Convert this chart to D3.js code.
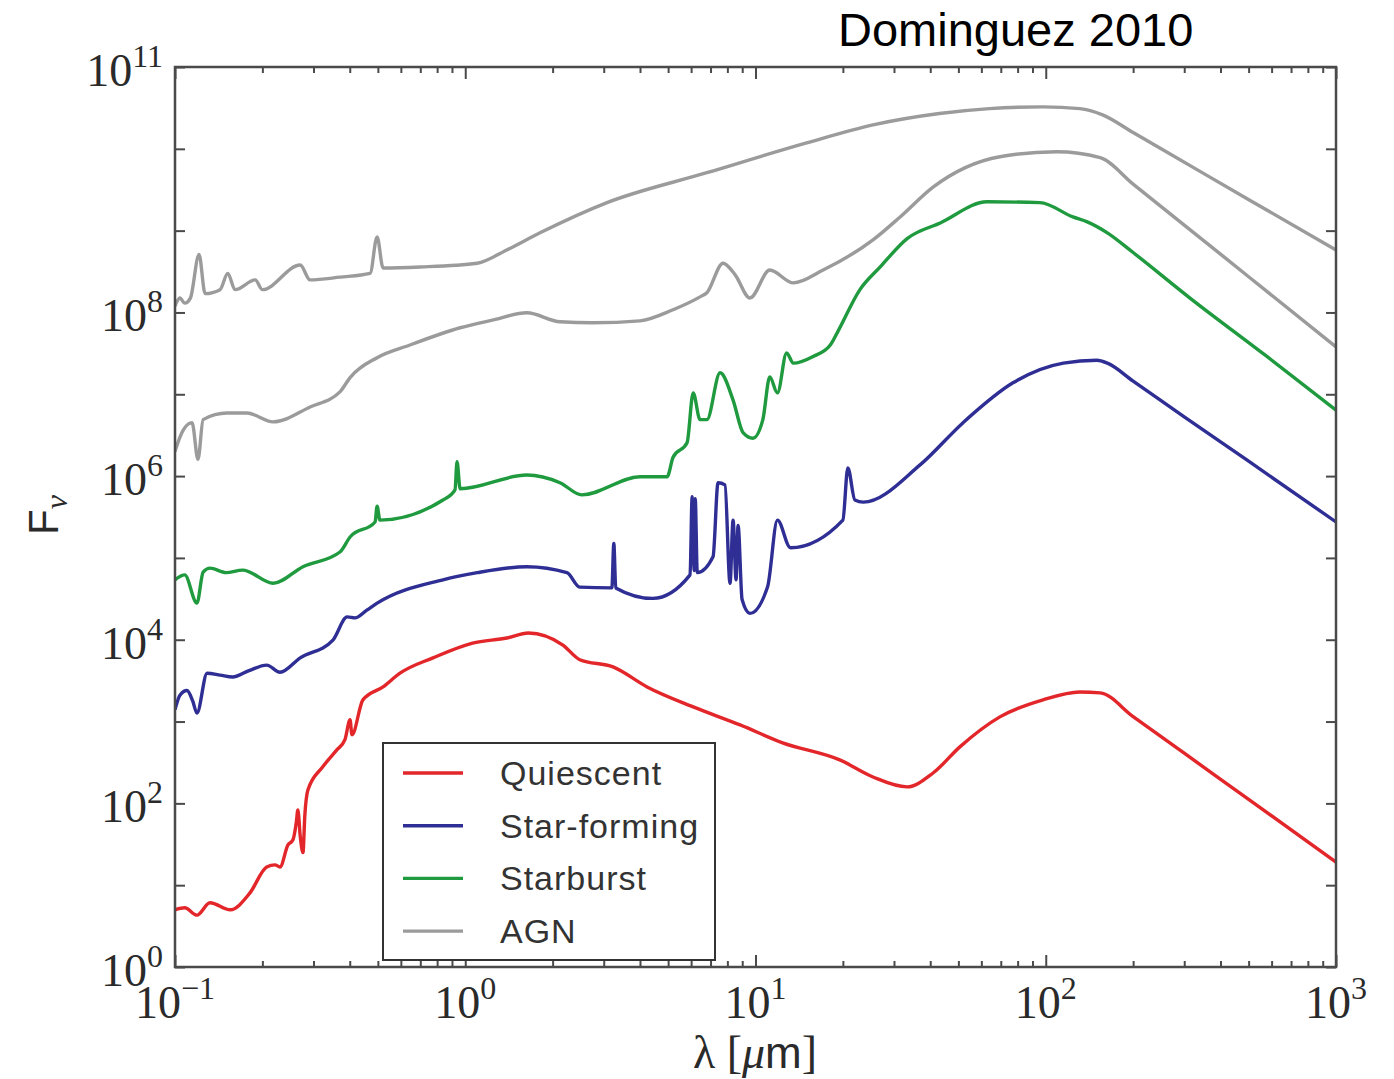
<!DOCTYPE html>
<html>
<head>
<meta charset="utf-8">
<script src="https://cdn.jsdelivr.net/npm/d3@7"></script>
<style>
  body { margin: 0; background: #fff; }
</style>
</head>
<body>
<svg></svg>
<script>
// Template SEDs: [wavelength in micron, F_nu].
const quiescent = [
  [0.1, 5.0], [0.108, 5.3], [0.119, 4.3], [0.132, 6.1], [0.155, 5.0], [0.181, 8.0],
  [0.207, 16.7], [0.221, 17.7], [0.23, 16.7], [0.245, 31], [0.255, 36], [0.262, 60],
  [0.265, 83], [0.27, 40], [0.276, 25], [0.28, 70], [0.287, 146], [0.323, 280],
  [0.361, 450], [0.385, 600], [0.401, 1050], [0.407, 690], [0.444, 1840], [0.521, 2650],
  [0.596, 3900], [0.774, 6000], [1.06, 9100], [1.39, 10500], [1.65, 12100], [2.17, 8600],
  [2.48, 5700], [3.23, 4650], [4.23, 2650], [6.1, 1510], [8.85, 910], [12.4, 550],
  [19.5, 340], [25.4, 210], [33.3, 159], [40.9, 235], [50.6, 490], [69.5, 1140],
  [97.9, 1840], [131, 2300], [154, 2240], [200, 1150], [300, 410], [500, 112], [1000, 19.2]
];

const starForming = [
  [0.1, 1400], [0.104, 2100], [0.11, 2400], [0.115, 1800], [0.119, 1270], [0.129, 3900],
  [0.143, 3700], [0.158, 3500], [0.18, 4200], [0.207, 4900], [0.23, 4000], [0.27, 6000],
  [0.35, 9900], [0.392, 1.9e4], [0.417, 1.85e4], [0.458, 2.3e4], [0.497, 2.8e4],
  [0.838, 5.4e4], [1.1, 6.6e4], [1.63, 7.8e4], [2.24, 6.6e4], [2.48, 4.4e4], [3.2, 4.3e4],
  [3.25, 1.5e5], [3.3, 4.3e4], [4.43, 3.2e4], [5.95, 6.2e4], [6.05, 5.6e5], [6.15, 7.0e4],
  [6.2, 5.3e5], [6.3, 6.6e4], [7.14, 1.03e5], [7.43, 8.3e5], [7.85, 7.8e5], [8.17, 4.9e4],
  [8.37, 2.9e5], [8.57, 5.4e4], [8.71, 2.5e5], [8.99, 3.1e4], [9.57, 2.1e4], [11.0, 4.4e4],
  [11.9, 2.9e5], [13.2, 1.33e5], [20.0, 2.9e5], [20.8, 1.26e6], [22.0, 5.1e5],
  [23.5, 4.8e5], [36.9, 1.37e6], [51.9, 4.5e6], [77.1, 1.38e7], [115, 2.4e7],
  [150, 2.6e7], [163, 2.4e7], [200, 1.45e7], [300, 5.3e6], [500, 1.52e6], [1000, 2.75e5]
];

const starburst = [
  [0.1, 5.4e4], [0.108, 6.2e4], [0.119, 2.8e4], [0.125, 6.7e4], [0.132, 7.5e4],
  [0.15, 6.6e4], [0.171, 7.1e4], [0.218, 4.9e4], [0.276, 7.8e4], [0.37, 1.18e5],
  [0.401, 1.8e5], [0.489, 2.75e5], [0.497, 4.3e5], [0.508, 2.9e5], [0.838, 5.1e5],
  [0.922, 6.8e5], [0.937, 1.5e6], [0.96, 7.0e5], [1.63, 1.03e6], [2.12, 8.3e5],
  [2.52, 5.9e5], [4.0, 9.8e5], [4.96, 9.8e5], [5.2, 1.7e6], [5.81, 2.55e6], [6.1, 1.04e7],
  [6.44, 4.9e6], [6.8, 4.9e6], [7.55, 1.83e7], [8.37, 8.5e6], [9.06, 3.4e6], [9.8, 2.9e6],
  [10.6, 4.9e6], [11.2, 1.63e7], [11.9, 1.04e7], [12.8, 3.2e7], [13.5, 2.4e7],
  [15.8, 2.9e7], [18.1, 4.0e7], [19.1, 5.6e7], [22.9, 1.9e8], [26.9, 3.6e8],
  [33.3, 8.0e8], [43.3, 1.24e9], [62.8, 2.25e9], [95.5, 2.2e9], [124, 1.47e9],
  [139, 1.28e9], [163, 9.4e8], [200, 5.4e8], [314, 1.5e8], [578, 2.9e7], [1000, 6.4e6]
];

const agnBright = [
  [0.1, 1.2e8], [0.104, 1.5e8], [0.108, 1.3e8], [0.113, 1.5e8], [0.121, 5.1e8],
  [0.127, 1.7e8], [0.143, 1.9e8], [0.152, 3.0e8], [0.161, 1.9e8], [0.189, 2.5e8],
  [0.2, 1.9e8], [0.27, 3.8e8], [0.292, 2.5e8], [0.37, 2.7e8], [0.47, 3.0e8],
  [0.497, 8.4e8], [0.521, 3.5e8], [0.7, 3.6e8], [1.1, 4.0e8], [1.39, 5.8e8],
  [1.81, 9.4e8], [3.08, 2.2e9], [6.8, 5.1e9], [15, 1.18e10], [25.4, 1.96e10],
  [43, 2.7e10], [64, 3.1e10], [98, 3.26e10], [131, 3.1e10], [157, 2.6e10],
  [200, 1.58e10], [340, 5.3e9], [506, 2.34e9], [1000, 5.8e8]
];

const agnFaint = [
  [0.1, 2.0e6], [0.104, 3.0e6], [0.107, 3.7e6], [0.1145, 4.5e6], [0.12, 1.6e6],
  [0.125, 4.9e6], [0.151, 5.9e6], [0.177, 5.9e6], [0.218, 4.6e6], [0.292, 7.0e6],
  [0.37, 1.07e7], [0.401, 1.6e7], [0.497, 2.8e7], [0.645, 4.0e7], [0.96, 6.5e7],
  [1.25, 8.1e7], [1.63, 9.9e7], [2.12, 7.7e7], [2.75, 7.5e7], [4.0, 7.9e7],
  [5.2, 1.08e8], [6.44, 1.55e8], [6.8, 1.74e8], [7.73, 4.0e8], [8.5, 2.9e8],
  [9.57, 1.5e8], [11.2, 3.3e8], [13.5, 2.3e8], [17.1, 3.3e8], [25.4, 7.7e8],
  [31.5, 1.47e9], [40.9, 3.4e9], [69.5, 8.0e9], [109, 9.2e9], [154, 7.8e9],
  [200, 3.7e9], [300, 1.17e9], [500, 2.73e8], [1000, 3.8e7]
];

const legendNames = ["Quiescent", "Star-forming", "Starburst", "AGN"];
const xTickExponents = [-1, 0, 1, 2, 3];
const yTickExponents = [0, 2, 4, 6, 8, 11];
const yTickDecades = [0, 1, 2, 3, 4, 5, 6, 7, 8, 9, 10, 11];

// Styles.
const colors = { Quiescent: "#e2262a", "Star-forming": "#2e2e94", Starburst: "#1f9a3e", AGN: "#9b9b9b" };
const axisColor = "#4a4a4a";
const serif = "'Liberation Serif', 'DejaVu Serif', serif";
const sans = "'Liberation Sans', Arial, sans-serif";

const svg = d3.select("svg").attr("width", 1394).attr("height", 1079);

const x = d3.scaleLog().domain([0.1, 1000]).range([175, 1336]);
const y = d3.scaleLog().domain([1, 1e11]).range([967, 67]);
const [plotLeft, plotRight] = x.range();
const [plotBottom, plotTop] = y.range();

svg.append("clipPath").attr("id", "plot")
  .append("rect")
  .attr("x", plotLeft).attr("y", plotTop)
  .attr("width", plotRight - plotLeft).attr("height", plotBottom - plotTop);

// Curves.
const line = d3.line()
  .x((d) => x(d[0]))
  .y((d) => y(d[1]))
  .curve(d3.curveMonotoneX);
const curves = [
  { name: "Quiescent", data: quiescent },
  { name: "Star-forming", data: starForming },
  { name: "Starburst", data: starburst },
  { name: "AGN", data: agnFaint },
  { name: "AGN", data: agnBright },
];

svg.append("g")
  .attr("clip-path", "url(#plot)")
  .selectAll("path")
  .data(curves)
  .join("path")
  .attr("d", (c) => line(c.data))
  .attr("fill", "none")
  .attr("stroke", (c) => colors[c.name])
  .attr("stroke-width", 3.4)
  .attr("stroke-linejoin", "round");

// Ticks, pointing inwards on all four sides.
const allX = x.ticks();
const majorX = allX.filter((v) => Math.abs(Math.log10(v) - Math.round(Math.log10(v))) < 1e-9);
const minorX = allX.filter((v) => !majorX.includes(v));
const yDecades = yTickDecades.map((e) => Math.pow(10, e));

function ticks(axis, values, size, pos) {
  const g = svg.append("g")
    .attr("transform", pos)
    .call(axis.tickValues(values).tickSize(-size).tickFormat(""));
  g.select(".domain").remove();
  g.selectAll("line").attr("stroke", axisColor).attr("stroke-width", 2);
}
ticks(d3.axisBottom(x), minorX, 6, `translate(0,${plotBottom})`);
ticks(d3.axisBottom(x), majorX, 12, `translate(0,${plotBottom})`);
ticks(d3.axisTop(x), minorX, 6, `translate(0,${plotTop})`);
ticks(d3.axisTop(x), majorX, 12, `translate(0,${plotTop})`);
ticks(d3.axisLeft(y), yDecades, 10, `translate(${plotLeft},0)`);
ticks(d3.axisRight(y), yDecades, 10, `translate(${plotRight},0)`);

// Frame.
svg.append("rect")
  .attr("x", plotLeft).attr("y", plotTop)
  .attr("width", plotRight - plotLeft).attr("height", plotBottom - plotTop)
  .attr("fill", "none").attr("stroke", axisColor).attr("stroke-width", 2.5);

// Tick labels as 10^n.
function power(sel) {
  sel.attr("font-family", serif).attr("fill", "#2a2a2a");
  sel.append("tspan").attr("font-size", 46).text("10");
  sel.append("tspan").attr("font-size", 32).attr("dy", -19)
    .text((e) => String(e).replace("-", "\u2212"));
}

svg.append("g").selectAll("text")
  .data(xTickExponents)
  .join("text")
  .attr("x", (e) => x(Math.pow(10, e)))
  .attr("y", 1018)
  .attr("text-anchor", "middle")
  .call(power);

svg.append("g").selectAll("text")
  .data(yTickExponents)
  .join("text")
  .attr("x", 163)
  .attr("y", (e) => y(Math.pow(10, e)) + 19)
  .attr("text-anchor", "end")
  .call(power);

// Axis titles.
const xt = svg.append("text")
  .attr("x", 755).attr("y", 1068)
  .attr("text-anchor", "middle")
  .attr("fill", "#2a2a2a")
  .attr("font-size", 46);
xt.append("tspan").attr("font-family", serif).text("\u03bb [");
xt.append("tspan").attr("font-family", serif).attr("font-style", "italic").text("\u03bc");
xt.append("tspan").attr("font-family", sans).attr("font-size", 44).text("m");
xt.append("tspan").attr("font-family", serif).text("]");

const yt = svg.append("text")
  .attr("transform", "translate(58,515) rotate(-90)")
  .attr("text-anchor", "middle")
  .attr("fill", "#2a2a2a");
yt.append("tspan").attr("font-family", sans).attr("font-size", 42).text("F");
yt.append("tspan").attr("font-family", serif).attr("font-style", "italic")
  .attr("font-size", 32).attr("dy", 9).text("\u03bd");

// Legend.
const legend = svg.append("g").attr("transform", "translate(383,743)");
legend.append("rect")
  .attr("width", 332).attr("height", 217)
  .attr("fill", "#fff").attr("stroke", "#333").attr("stroke-width", 2);
const rows = legend.selectAll("g.row")
  .data(legendNames)
  .join("g")
  .attr("class", "row")
  .attr("transform", (d, i) => `translate(0,${30 + i * 52.7})`);
rows.append("line")
  .attr("x1", 20).attr("x2", 80)
  .attr("stroke", (d) => colors[d]).attr("stroke-width", 3.4);
rows.append("text")
  .attr("x", 117).attr("y", 12)
  .attr("font-family", sans).attr("font-size", 34)
  .attr("letter-spacing", 1)
  .attr("fill", "#333")
  .text((d) => d);

// Caption.
svg.append("text")
  .attr("x", 838).attr("y", 46)
  .attr("font-family", sans).attr("font-size", 47)
  .attr("fill", "#000")
  .text("Dominguez 2010");
</script>
</body>
</html>
